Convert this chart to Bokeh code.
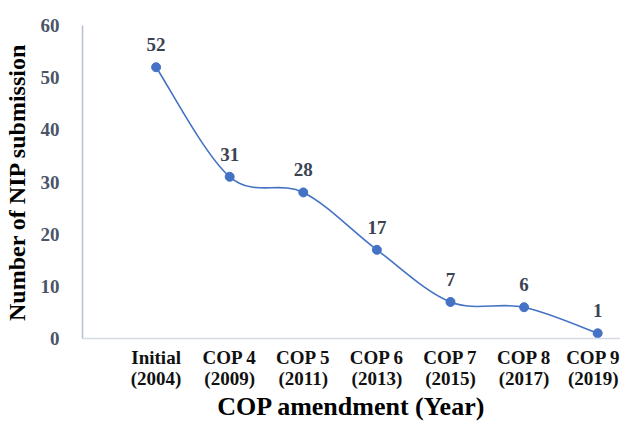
from bokeh.plotting import figure
from bokeh.models import FixedTicker, ColumnDataSource, LabelSet, Label, Range1d
from bokeh.embed import file_html
from bokeh.resources import INLINE

# ---- data ----
categories = ["Initial\n(2004)", "COP 4\n(2009)", "COP 5\n(2011)", "COP 6\n(2013)",
              "COP 7\n(2015)", "COP 8\n(2017)", "COP 9\n(2019)"]
positions = [1, 2, 3, 4, 5, 6, 7]
submissions = [52, 31, 28, 17, 7, 6, 1]
y_ticks = [0, 10, 20, 30, 40, 50, 60]
origin_label = "0"

SERIF = "Liberation Serif"
LINE = "#4472C4"
TICKCOL = "#4A5568"
LABELCOL = "#3B4352"

p = figure(width=620, height=423, output_backend="svg", toolbar_location=None,
           x_range=Range1d(0, 7.31), y_range=Range1d(0, 60),
           min_border_left=82, min_border_top=25, min_border_bottom=85, min_border_right=0)
p.outline_line_color = None
p.xgrid.grid_line_color = None
p.ygrid.grid_line_color = None

# smooth (Excel-like) curve via cubic Bezier segments from data
n = len(positions)
x0s, y0s, x1s, y1s, cx0, cy0, cx1, cy1 = [], [], [], [], [], [], [], []
for i in range(n - 1):
    xp = positions[i - 1] if i > 0 else positions[i]
    yp = submissions[i - 1] if i > 0 else submissions[i]
    xn2 = positions[i + 2] if i + 2 < n else positions[i + 1]
    yn2 = submissions[i + 2] if i + 2 < n else submissions[i + 1]
    x0s.append(positions[i]); y0s.append(submissions[i])
    x1s.append(positions[i + 1]); y1s.append(submissions[i + 1])
    cx0.append(positions[i] + (positions[i + 1] - xp) / 6)
    cy0.append(submissions[i] + (submissions[i + 1] - yp) / 6)
    cx1.append(positions[i + 1] - (xn2 - positions[i]) / 6)
    cy1.append(submissions[i + 1] - (yn2 - submissions[i]) / 6)
p.bezier(x0=x0s, y0=y0s, x1=x1s, y1=y1s, cx0=cx0, cy0=cy0, cx1=cx1, cy1=cy1,
         line_color=LINE, line_width=1.6)

src = ColumnDataSource(dict(x=positions, y=submissions, t=[str(v) for v in submissions]))
p.scatter("x", "y", source=src, size=9, fill_color=LINE, line_color=LINE)

labels = LabelSet(x="x", y="y", text="t", source=src, y_offset=16,
                  text_align="center", text_baseline="bottom",
                  text_font=SERIF, text_font_style="bold", text_font_size="19px",
                  text_color=LABELCOL)
p.add_layout(labels)

# x axis
p.xaxis.ticker = FixedTicker(ticks=positions)
p.xaxis.major_label_overrides = {pos: c for pos, c in zip(positions, categories)}
p.xaxis.major_label_text_font = SERIF
p.xaxis.major_label_text_font_style = "bold"
p.xaxis.major_label_text_font_size = "19px"
p.xaxis.major_label_text_line_height = 1.0
p.xaxis.major_label_text_color = "#111111"
p.xaxis.major_label_standoff = 2
p.xaxis.major_tick_line_color = None
p.xaxis.minor_tick_line_color = None
p.xaxis.axis_line_color = "#D6DAE6"
p.xaxis.axis_line_width = 1.5
p.xaxis.axis_label = "COP amendment (Year)"
p.xaxis.axis_label_text_font = SERIF
p.xaxis.axis_label_text_font_style = "bold"
p.xaxis.axis_label_text_font_size = "26px"
p.xaxis.axis_label_text_color = "#000000"
p.xaxis.axis_label_standoff = 0

# y axis
p.yaxis.ticker = FixedTicker(ticks=y_ticks)
p.yaxis.major_label_text_font = SERIF
p.yaxis.major_label_text_font_style = "bold"
p.yaxis.major_label_text_font_size = "19px"
p.yaxis.major_label_text_color = TICKCOL
p.yaxis.major_label_standoff = 17
p.yaxis.major_tick_line_color = None
p.yaxis.minor_tick_line_color = None
p.yaxis.axis_line_color = "#B8C0D2"
p.yaxis.axis_line_width = 1.5
p.yaxis.axis_label = "Number of NIP submission"
p.yaxis.axis_label_text_font = SERIF
p.yaxis.axis_label_text_font_style = "bold"
p.yaxis.axis_label_text_font_size = "24px"
p.yaxis.axis_label_text_color = "#000000"
p.yaxis.axis_label_standoff = 8

# "0" category-axis origin label
p.add_layout(Label(x=0, y=0, text=origin_label, y_offset=-25, x_offset=5,
                   text_align="center", text_baseline="middle",
                   text_font=SERIF, text_font_style="bold", text_font_size="19px",
                   text_color=TICKCOL))

open("out.html", "w").write(file_html(p, INLINE))
